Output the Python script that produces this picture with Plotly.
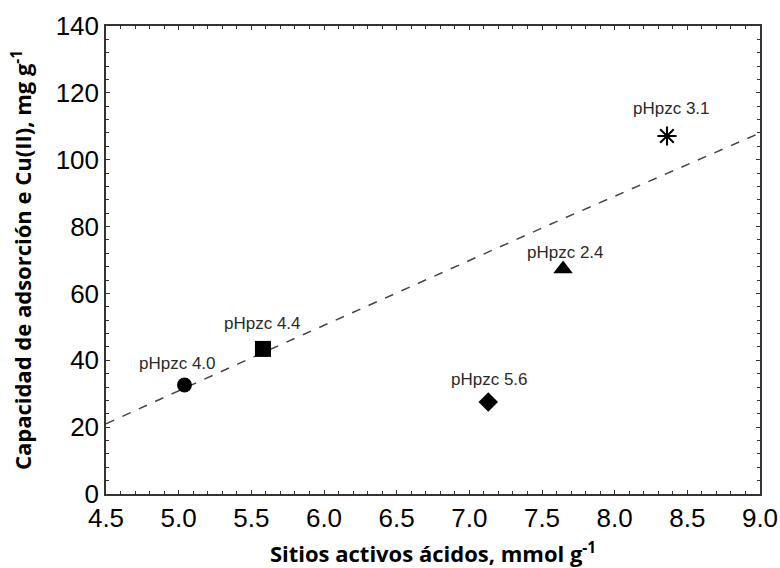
import plotly.graph_objects as go

# Data
sites = [5.04, 5.58, 7.13, 7.645, 8.36]
capacity = [32.6, 43.4, 27.5, 67.3, 107.1]
labels = ["pHpzc 4.0", "pHpzc 4.4", "pHpzc 5.6", "pHpzc 2.4", "pHpzc 3.1"]
symbols = ["circle", "square", "diamond", "triangle-up", "asterisk-open"]
sizes = [15, 16, 15, 17, 16]
fit_x = [4.5, 5.58, 7.6, 9.0]
fit_y = [21.0, 42.3, 81.5, 108.0]

# label offsets (pixels) relative to markers
label_dx = [-7, 0, 1, 2, 5]
label_dy = [22, 25, 23, 17, 27]

fig = go.Figure()
fig.add_trace(go.Scatter(x=fit_x, y=fit_y, mode="lines",
                         line=dict(color="#444444", width=1.5, dash="dash"),
                         showlegend=False, hoverinfo="skip"))
for xv, yv, sym, sz in zip(sites, capacity, symbols, sizes):
    fig.add_trace(go.Scatter(
        x=[xv], y=[yv], mode="markers",
        marker=dict(symbol=sym, size=sz, color="black",
                    line=dict(color="black", width=2 if sym == "asterisk-open" else 0)),
        showlegend=False))
for xv, yv, lab, dx, dy in zip(sites, capacity, labels, label_dx, label_dy):
    fig.add_annotation(x=xv, y=yv, text=lab, showarrow=False, xshift=dx, yshift=dy,
                       xanchor="center", yanchor="middle",
                       font=dict(family="Liberation Sans, Arial", size=17, color="#2a2a2a"))

axis_common = dict(
    showline=True, linecolor="#333333", linewidth=1.5, mirror="ticks",
    ticks="inside", ticklen=4, tickcolor="#333333", showgrid=False, zeroline=False,
    automargin=False,
    tickfont=dict(family="Liberation Sans, Arial", size=26, color="black"),
)
fig.update_xaxes(range=[4.5, 9.0], dtick=0.5, tickformat=".1f",
                 minor=dict(dtick=0.1, ticks="inside", ticklen=3, tickcolor="#333333"),
                 title=dict(text="Sitios activos ácidos, mmol g<sup>-1</sup>",
                            font=dict(family="Open Sans", size=22, color="black", weight="bold"),
                            standoff=16),
                 **axis_common)
fig.update_yaxes(range=[0, 140], dtick=20,
                 minor=dict(dtick=4, ticks="inside", ticklen=3, tickcolor="#333333"),
                 title=dict(text="Capacidad de adsorción e Cu(II), mg g<sup>-1</sup>",
                            font=dict(family="Open Sans", size=22, color="black", weight="bold"),
                            standoff=18),
                 **axis_common)
fig.update_layout(width=780, height=568, margin=dict(l=106, r=20, t=26, b=74, autoexpand=False),
                  plot_bgcolor="white", paper_bgcolor="white")
fig.write_html("out.html")
